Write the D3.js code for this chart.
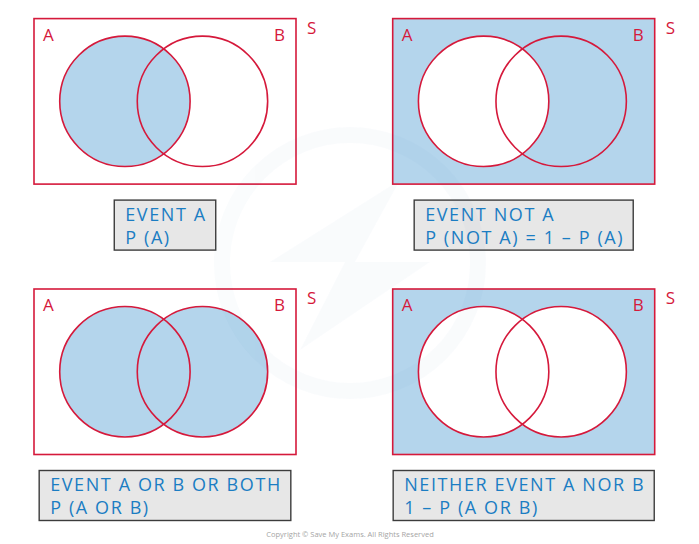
<!DOCTYPE html>
<html>
<head>
<meta charset="utf-8">
<script src="https://cdn.jsdelivr.net/npm/d3@7"></script>
<style>
  body { margin: 0; background: #fff; }
  svg { display: block; }
</style>
</head>
<body>
<svg id="chart" width="699" height="544"></svg>
<script>
// ---- data ----
const panelIds = ["eventA", "notA", "aOrB", "neither"];
const setNames = ["A", "B"];
const universeLabel = "S";
// shaded regions per panel: [outside, A only, A and B, B only]
const shading = [
  [false, true, true, false],
  [true, false, false, true],
  [false, true, true, true],
  [true, false, false, false]
];
const captionLine1 = ["EVENT A", "EVENT NOT A", "EVENT A OR B OR BOTH", "NEITHER EVENT A NOR B"];
const captionLine2 = ["P (A)", "P (NOT A) = 1 \u2013 P (A)", "P (A OR B)", "1 \u2013 P (A OR B)"];
const copyright = "Copyright \u00a9 Save My Exams. All Rights Reserved";

// ---- look ----
const red = "#d5193b";
const blue = "#b4d5ec";
const textBlue = "#1b7dc3";
const font = "'Open Sans', 'DejaVu Sans', sans-serif";

const svg = d3.select("#chart");

// panel grid
const colX = d3.scaleLinear().domain([0, 1]).range([34, 392.7]);
const rowY = d3.scaleLinear().domain([0, 1]).range([18.6, 289]);
const boxW = 262, boxH = 165.5;

// inside one panel
const vx = d3.scaleLinear().domain([0, 1]).range([0, boxW]);
const vy = d3.scaleLinear().domain([0, 1]).range([0, boxH]);
const circles = [
  { cx: vx(0.347), cy: vy(0.5), r: 65.2 },
  { cx: vx(0.643), cy: vy(0.5), r: 65.2 }
];

// clip/mask defs in panel-local coordinates
const defs = svg.append("defs");
defs.append("clipPath").attr("id", "clipB")
  .append("circle").attr("cx", circles[1].cx).attr("cy", circles[1].cy).attr("r", circles[1].r);

function makeMask(id, holes) {
  const m = defs.append("mask").attr("id", id)
    .attr("maskUnits", "userSpaceOnUse")
    .attr("x", -10).attr("y", -10).attr("width", boxW + 20).attr("height", boxH + 20);
  m.append("rect").attr("x", -10).attr("y", -10)
    .attr("width", boxW + 20).attr("height", boxH + 20).attr("fill", "#fff");
  holes.forEach(c => m.append("circle")
    .attr("cx", c.cx).attr("cy", c.cy).attr("r", c.r).attr("fill", "#000"));
}
makeMask("maskOutside", circles);
makeMask("maskNoB", [circles[1]]);
makeMask("maskNoA", [circles[0]]);

const panels = svg.selectAll("g.panel")
  .data(panelIds)
  .join("g")
  .attr("class", "panel")
  .attr("transform", (d, i) => `translate(${colX(i % 2)},${rowY(Math.floor(i / 2))})`);

panels.each(function(id, i) {
  const g = d3.select(this);
  const [sOut, sA, sAB, sB] = shading[i];

  g.append("rect").attr("width", boxW).attr("height", boxH)
    .attr("fill", sOut ? blue : "#fff").attr("mask", "url(#maskOutside)");
  g.append("circle").attr("cx", circles[0].cx).attr("cy", circles[0].cy).attr("r", circles[0].r)
    .attr("fill", sA ? blue : "#fff").attr("mask", "url(#maskNoB)");
  g.append("circle").attr("cx", circles[1].cx).attr("cy", circles[1].cy).attr("r", circles[1].r)
    .attr("fill", sB ? blue : "#fff").attr("mask", "url(#maskNoA)");
  g.append("circle").attr("cx", circles[0].cx).attr("cy", circles[0].cy).attr("r", circles[0].r)
    .attr("fill", sAB ? blue : "#fff").attr("clip-path", "url(#clipB)");

  // outlines
  g.append("rect").attr("width", boxW).attr("height", boxH)
    .attr("fill", "none").attr("stroke", red).attr("stroke-width", 1.6);
  g.selectAll("circle.ring").data(circles).join("circle").attr("class", "ring")
    .attr("cx", c => c.cx).attr("cy", c => c.cy).attr("r", c => c.r)
    .attr("fill", "none").attr("stroke", red).attr("stroke-width", 1.6);

  // set labels
  const lab = g.append("g").attr("fill", red).style("font-family", font).style("font-size", "17px");
  lab.append("text").attr("x", 9).attr("y", 22).text(setNames[0]);
  lab.append("text").attr("x", boxW - 11).attr("y", 22).attr("text-anchor", "end").text(setNames[1]);
  lab.append("text").attr("x", boxW + 11).attr("y", 15).text(universeLabel);

  // caption box
  const cap = g.append("g").attr("transform", `translate(0,${boxH + 16})`);
  const bg = cap.append("rect").attr("height", 50)
    .attr("fill", "#e7e7e7").attr("stroke", "#3c3c3c").attr("stroke-width", 1.4);
  const t = cap.append("g").attr("fill", textBlue)
    .style("font-family", font).style("font-size", "18px")
    .style("letter-spacing", "1.6px");
  const l1 = t.append("text").attr("y", 20.5).text(captionLine1[i]);
  const l2 = t.append("text").attr("y", 43.5).text(captionLine2[i]);
  const tw = Math.max(l1.node().getComputedTextLength(), l2.node().getComputedTextLength());
  const w = tw + 20;
  const x0 = (boxW - w) / 2;
  bg.attr("x", x0).attr("width", w);
  l1.attr("x", x0 + 11);
  l2.attr("x", x0 + 11);
});

// faint watermark
const wm = svg.append("g").attr("fill", "none").attr("stroke", "#3b6fb3").attr("opacity", 0.025);
wm.append("circle").attr("cx", 350).attr("cy", 263).attr("r", 128).attr("stroke-width", 16);
wm.append("path").attr("fill", "#3b6fb3").attr("stroke", "none")
  .attr("d", "M400,180 L270,262 L345,262 L300,350 L430,262 L355,262 Z");

svg.append("text")
  .attr("x", 350).attr("y", 537)
  .attr("text-anchor", "middle")
  .attr("fill", "#a5a5a5")
  .style("font-family", font).style("font-size", "7.5px")
  .text(copyright);
</script>
</body>
</html>
